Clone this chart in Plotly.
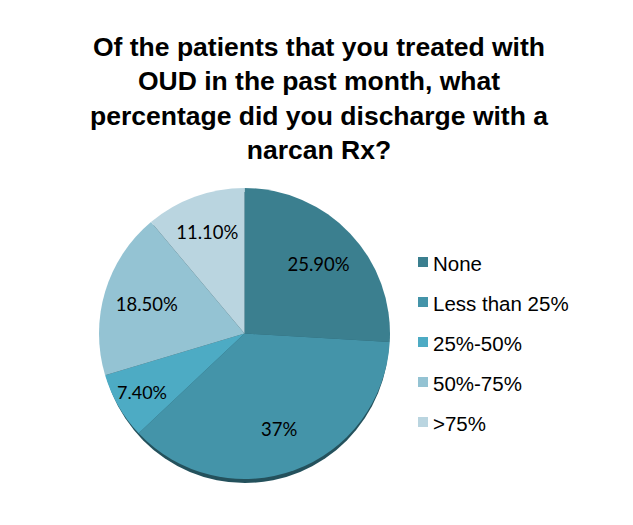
import plotly.graph_objects as go

# survey answers
labels = ["None", "Less than 25%", "25%-50%", "50%-75%", ">75%"]
values = [25.9, 37.0, 7.4, 18.5, 11.1]
value_text = ["25.90%", "37%", "7.40%", "18.50%", "11.10%"]
colors = ["#3B7F8F", "#4494A9", "#4DABC4", "#94C3D3", "#BAD5E0"]

W, H = 633, 525
OFF = 8  # page body margin in the browser

fig = go.Figure()

# pie area in pixels (as seen in the reference)
px0, px1, py0, py1 = 99 - OFF, 390 - OFF, 188 - OFF, 479 - OFF
dom = dict(x=[px0 / W, px1 / W], y=[1 - py1 / H, 1 - py0 / H])

# coloured slices, no text
fig.add_trace(go.Pie(
    labels=labels,
    values=values,
    textinfo="none",
    marker=dict(colors=colors, line=dict(width=0)),
    sort=False,
    direction="clockwise",
    rotation=0,
    showlegend=False,
    domain=dom,
))

# transparent ring on top, only to push the value labels outward
fig.add_trace(go.Pie(
    labels=labels,
    values=values,
    text=value_text,
    textinfo="text",
    textposition="inside",
    insidetextorientation="horizontal",
    textfont=dict(family="Lato, Open Sans, Arial", size=18.5, color="black"),
    marker=dict(colors=["rgba(0,0,0,0)"] * len(labels), line=dict(width=0)),
    hole=0.4,
    sort=False,
    direction="clockwise",
    rotation=0,
    showlegend=False,
    hoverinfo="skip",
    domain=dom,
))

# drop shadow under the pie (the slight 3D edge)
fig.add_shape(type="circle", xref="paper", yref="paper", layer="below",
              x0=(px0 + 2) / W, x1=(px1 - 1) / W,
              y0=1 - (py1 + 4) / H, y1=1 - (py0 + 4) / H,
              fillcolor="#24515C", line=dict(width=0))

# legend drawn by hand so the rows can be spaced like the original
leg_x, leg_y0, leg_step = 418 - OFF, 262 - OFF, 40
for i, (lab, col) in enumerate(zip(labels, colors)):
    yc = leg_y0 + i * leg_step
    fig.add_shape(type="rect", xref="paper", yref="paper",
                  x0=leg_x / W, x1=(leg_x + 10) / W,
                  y0=1 - (yc + 5) / H, y1=1 - (yc - 5) / H,
                  fillcolor=col, line=dict(width=0))
    fig.add_annotation(x=(leg_x + 13) / W, y=1 - (yc + 1) / H, xref="paper", yref="paper",
                       text=lab, showarrow=False, xanchor="left", yanchor="middle",
                       font=dict(family="Liberation Sans, Arial", size=20.5, color="black"))

fig.update_layout(
    width=W, height=H,
    margin=dict(l=0, r=0, t=0, b=0),
    paper_bgcolor="white",
    plot_bgcolor="white",
    title=dict(
        text="<b>Of the patients that you treated with<br>OUD in the past month, what<br>"
             "percentage did you discharge with a<br>narcan Rx?</b>",
        x=(319 - OFF) / W, xanchor="center",
        y=1 - 48 / H, yanchor="top",
        font=dict(family="Liberation Sans, Arial", size=26.5, color="black"),
    ),
)

fig.write_html("out.html")
